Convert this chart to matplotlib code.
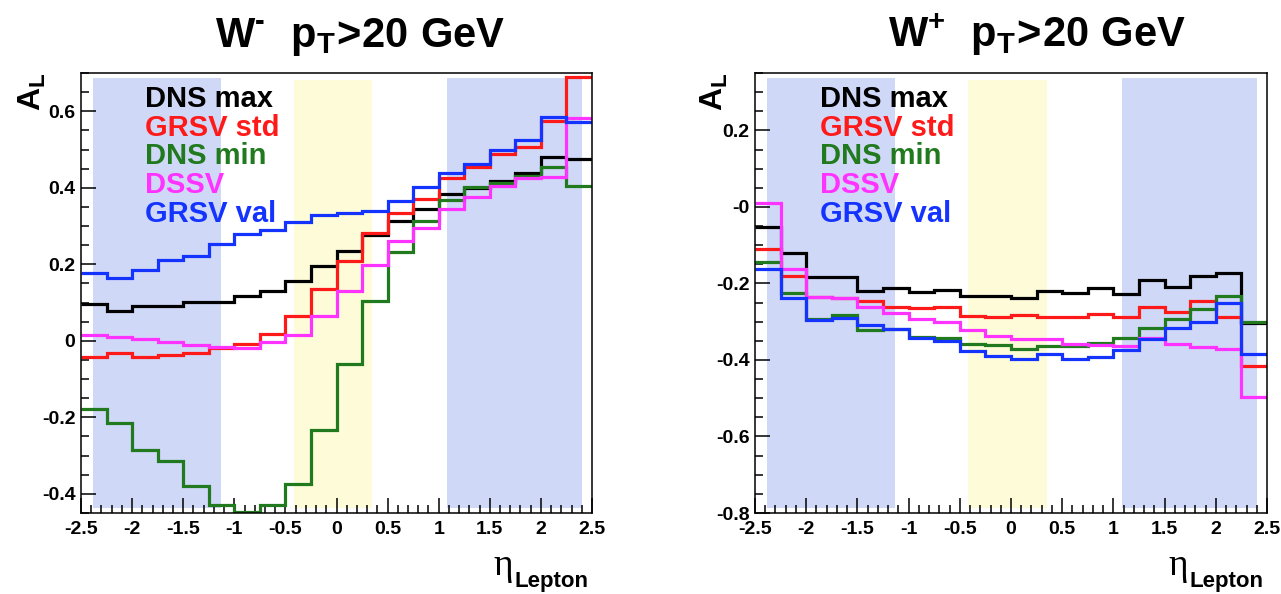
import numpy as np
import matplotlib
matplotlib.use('Agg')
from matplotlib import pyplot as plt
from matplotlib.ticker import MultipleLocator

plt.rcParams['font.family'] = ['Liberation Sans', 'DejaVu Sans']
plt.rcParams['mathtext.fontset'] = 'custom'
plt.rcParams['mathtext.bf'] = 'Liberation Sans:bold'
plt.rcParams['mathtext.rm'] = 'Liberation Sans:bold'
plt.rcParams['mathtext.it'] = 'Liberation Sans:bold'

# eta bins, 20 bins of width 0.25
edges = np.linspace(-2.5, 2.5, 21)
xticks = [-2.5, -2, -1.5, -1, -0.5, 0, 0.5, 1, 1.5, 2, 2.5]
xticklabels = ['-2.5', '-2', '-1.5', '-1', '-0.5', '0', '0.5', '1', '1.5', '2', '2.5']

names = ['DNS max', 'GRSV std', 'DNS min', 'DSSV', 'GRSV val']
colors = ['#000000', '#ff1a1a', '#217a1e', '#ff33ff', '#1433ff']

# W- panel
wm_dns_max = [0.096, 0.079, 0.090, 0.092, 0.101, 0.101, 0.117, 0.131, 0.156, 0.195,
              0.234, 0.276, 0.313, 0.344, 0.384, 0.399, 0.417, 0.439, 0.480, 0.474]
wm_grsv_std = [-0.041, -0.033, -0.042, -0.037, -0.032, -0.020, -0.009, 0.017, 0.066, 0.135,
               0.208, 0.281, 0.335, 0.371, 0.425, 0.454, 0.487, 0.507, 0.575, 0.689]
wm_dns_min = [-0.178, -0.215, -0.285, -0.314, -0.379, -0.430, -0.447, -0.430, -0.375, -0.233,
              -0.061, 0.105, 0.232, 0.314, 0.367, 0.402, 0.412, 0.430, 0.454, 0.405]
wm_dssv = [0.015, 0.009, 0.004, -0.004, -0.011, -0.016, -0.018, -0.002, 0.015, 0.066,
           0.130, 0.199, 0.261, 0.294, 0.344, 0.375, 0.404, 0.425, 0.428, 0.582]
wm_grsv_val = [0.178, 0.165, 0.184, 0.212, 0.222, 0.254, 0.278, 0.289, 0.311, 0.329,
               0.333, 0.340, 0.366, 0.402, 0.439, 0.461, 0.498, 0.525, 0.585, 0.573]

# W+ panel
wp_dns_max = [-0.052, -0.120, -0.184, -0.184, -0.219, -0.213, -0.222, -0.217, -0.232, -0.232,
              -0.237, -0.220, -0.226, -0.213, -0.228, -0.191, -0.210, -0.180, -0.174, -0.304]
wp_grsv_std = [-0.111, -0.180, -0.235, -0.239, -0.246, -0.261, -0.265, -0.261, -0.284, -0.287,
               -0.283, -0.287, -0.287, -0.281, -0.287, -0.261, -0.274, -0.246, -0.287, -0.417]
wp_dns_min = [-0.145, -0.226, -0.294, -0.283, -0.322, -0.320, -0.339, -0.342, -0.357, -0.361,
              -0.371, -0.363, -0.363, -0.355, -0.342, -0.316, -0.294, -0.268, -0.232, -0.300]
wp_dssv = [0.009, -0.163, -0.235, -0.239, -0.261, -0.277, -0.294, -0.300, -0.322, -0.337,
           -0.345, -0.345, -0.359, -0.361, -0.363, -0.342, -0.358, -0.365, -0.372, -0.496]
wp_grsv_val = [-0.163, -0.237, -0.296, -0.291, -0.309, -0.320, -0.342, -0.350, -0.377, -0.389,
               -0.398, -0.384, -0.398, -0.391, -0.374, -0.346, -0.316, -0.300, -0.250, -0.385]

wm_yticks = [-0.4, -0.2, 0, 0.2, 0.4, 0.6]
wm_yticklabels = ['-0.4', '-0.2', '0', '0.2', '0.4', '0.6']
wp_yticks = [-0.8, -0.6, -0.4, -0.2, 0, 0.2]
wp_yticklabels = ['-0.8', '-0.6', '-0.4', '-0.2', '-0', '0.2']

# shaded eta regions
blue_bands = [(-2.38, -1.13), (1.08, 2.40)]
yellow_band = (-0.42, 0.35)

W, H = 1281, 594
fig = plt.figure(figsize=(W / 100, H / 100), dpi=100)
ax1 = fig.add_axes([81 / W, 81 / H, 511 / W, 440 / H])
ax2 = fig.add_axes([755 / W, 81 / H, 512 / W, 440 / H])

panels = [
    (ax1, [wm_dns_max, wm_grsv_std, wm_dns_min, wm_dssv, wm_grsv_val], (-0.45, 0.70),
     wm_yticks, wm_yticklabels, r'$\mathbf{W^{\text{-}}\ \ p_{T}\!>\!20\ GeV}$', 360),
    (ax2, [wp_dns_max, wp_grsv_std, wp_dns_min, wp_dssv, wp_grsv_val], (-0.80, 0.35),
     wp_yticks, wp_yticklabels, r'$\mathbf{W^{+}\ \ p_{T}\!>\!20\ GeV}$', 1037),
]

order = [4, 1, 2, 3, 0]
for ax, series, ylim, yt, ytl, title, tx in panels:
    for a, b in blue_bands:
        ax.axvspan(a, b, ymin=0.011, ymax=0.989, color='#d0d8f8', lw=0, zorder=0)
    ax.axvspan(*yellow_band, ymin=0.011, ymax=0.984, color='#fdfbd8', lw=0, zorder=0)
    for i in order:
        ax.stairs(series[i], edges, baseline=None, color=colors[i], lw=2.3,
                  zorder=2 + i * 0.1)
    ax.set_xlim(-2.5, 2.5)
    ax.set_ylim(*ylim)
    ax.set_xticks(xticks)
    ax.set_xticklabels(xticklabels)
    ax.set_yticks(yt)
    ax.set_yticklabels(ytl)
    ax.xaxis.set_minor_locator(MultipleLocator(0.1))
    ax.yaxis.set_minor_locator(MultipleLocator(0.05))
    ax.tick_params(which='both', direction='in', width=1.1, top=False, right=False,
                   labelsize=14)
    ax.tick_params(which='major', length=11)
    ax.tick_params(which='minor', length=5.5)
    ax.tick_params(axis='x', pad=6)
    ax.tick_params(axis='y', pad=4)
    for lab in ax.get_xticklabels() + ax.get_yticklabels():
        lab.set_fontweight('bold')
    for s in ax.spines.values():
        s.set_linewidth(1.1)

    # text-only legend
    for k, name in enumerate(names):
        ax.text(0.126, 0.923 - k * 0.0652, name, transform=ax.transAxes, color=colors[k],
                fontsize=21, fontweight='bold', va='baseline', ha='left', zorder=5)

    fig.text(tx / W, 1 - 47 / H, title, fontsize=30, ha='center', va='baseline')
    ax.text(-0.095 if ax is ax1 else -0.08, 1.0, r'$\mathbf{A_{L}}$', transform=ax.transAxes,
            rotation=90, fontsize=23, ha='center', va='top')
    # x label: eta_Lepton
    ax.text(0.845, -0.14, '\u03b7', transform=ax.transAxes, fontsize=27,
            family='Liberation Serif', ha='right', va='baseline')
    ax.text(0.848, -0.168, 'Lepton', transform=ax.transAxes, fontsize=16,
            fontweight='bold', ha='left', va='baseline')

fig.savefig('out.png', dpi=100)
